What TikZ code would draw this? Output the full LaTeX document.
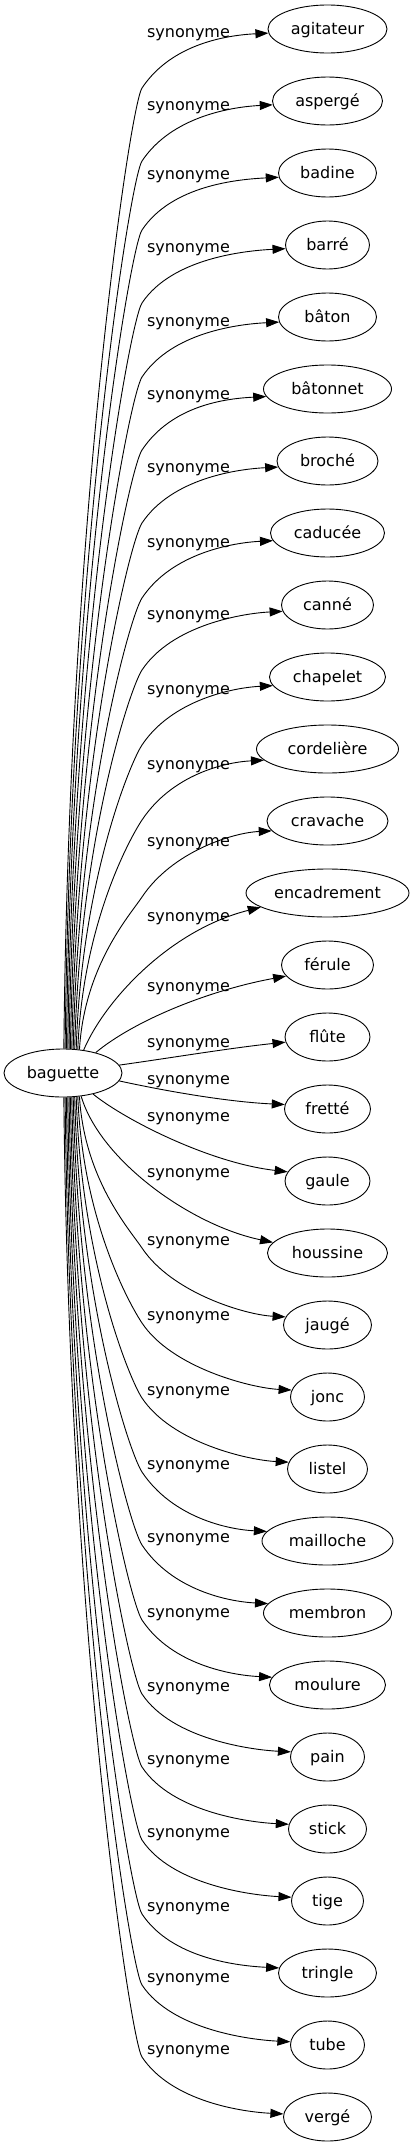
\documentclass[tikz,border=0pt]{standalone}
\usepackage{fontspec}
\setmainfont{DejaVu Sans}
\usetikzlibrary{arrows.meta,shapes.geometric,calc}
\begin{document}
\begin{tikzpicture}[x=1pt,y=-1pt,
  word/.style={draw,ellipse,line width=0.9pt,inner sep=0pt,minimum height=48pt,text height=12pt,text depth=2pt,font=\fontsize{16}{19}\selectfont},
  lab/.style={anchor=base,inner sep=0pt,font=\fontsize{16}{19}\selectfont},
  conn/.style={line width=0.9pt,-{Triangle[length=13pt,width=9pt]}}]
\useasboundingbox (0,0) rectangle (413,2147);
\node[word,minimum width=118pt] (bag) at (63,1073) {baguette};
% upper, far edges
\foreach \txt/\w/\yy/\LL [count=\i] in {agitateur/119/29/33,aspergé/110/101/106,badine/98/173/175,barré/84/245/248,bâton/98/317/322,bâtonnet/128/389/395,broché/101/461/468,caducée/114/533/543,canné/92/605/615,chapelet/116/677/690,cordelière/142/749/765,cravache/121/821/842}{
  \pgfmathtruncatemacro\th{91-3*\i}
  \pgfmathtruncatemacro\ta{184+0.6*(\i-1)}
  \node[word,minimum width=\w pt] (u\i) at (327.5,\yy) {\txt};
  \node[lab] (lu\i) at (188.5,\LL+4.5) {synonyme};
  \coordinate (S) at (bag.\th);
  \coordinate (K) at (142,\LL+55);
  \coordinate (M) at ($(S)!0.55!(K)$);
  \coordinate (T) at (u\i.\ta);
  \draw[conn] (S) .. controls ($(S|-M)+(5,0)$) and ($(K)+(-12,18)$) .. (K) .. controls ($(K)+(30,-45)$) and ($(T)+(-40,2)$) .. (T);
}
% upper, near edges
\node[word,minimum width=163pt] (u13) at (327.5,893) {encadrement};
\node[lab] (lu13) at (188.5,921.5) {synonyme};
\draw[conn] (bag.48) .. controls (105,1000) and (170,930) .. (u13.192);
\node[word,minimum width=92pt] (u14) at (327.5,965) {férule};
\node[lab] (lu14) at (188.5,991.5) {synonyme};
\draw[conn] (bag.32) .. controls (135,1020) and (210,990) .. (u14.195);
\node[word,minimum width=85pt] (u15) at (327.5,1037) {flûte};
\node[lab] (lu15) at (188.5,1047.5) {synonyme};
\draw[conn] (bag.8) .. controls (170,1058) and (230,1048) .. (u15.187);
% lower, near edges
\node[word,minimum width=86pt] (d1) at (327.5,1109) {fretté};
\node[lab] (ld1) at (188.5,1084.5) {synonyme};
\draw[conn] (bag.352) .. controls (170,1092) and (230,1102) .. (d1.174);
\node[word,minimum width=85pt] (d2) at (327.5,1181) {gaule};
\node[lab] (ld2) at (188.5,1121.5) {synonyme};
\draw[conn] (bag.325) .. controls (125,1120) and (210,1163) .. (d2.167);
\node[word,minimum width=120pt] (d3) at (327.5,1253) {houssine};
\node[lab] (ld3) at (188.5,1177.5) {synonyme};
\draw[conn] (bag.308) .. controls (100,1160) and (190,1225) .. (d3.169);
% lower, far edges
\foreach \txt/\w/\yy/\LL [count=\i from 4] in {jaugé/88/1325/1241,jonc/74/1397/1316,listel/80/1469/1391,mailloche/131/1541/1465,membron/128/1613/1538,moulure/116/1685/1613,pain/74/1757/1687,stick/78/1829/1760,tige/72/1901/1833,tringle/98/1973/1907,tube/74/2045/1978,vergé/88/2117/2050}{
  \pgfmathtruncatemacro\th{308-3*(\i-3)}
  \pgfmathtruncatemacro\ta{176-0.6*(15-\i)}
  \node[word,minimum width=\w pt] (d\i) at (327.5,\yy) {\txt};
  \node[lab] (ld\i) at (188.5,\LL+4.5) {synonyme};
  \coordinate (S) at (bag.\th);
  \coordinate (K) at (142,\LL+7);
  \coordinate (M) at ($(S)!0.55!(K)$);
  \coordinate (T) at (d\i.\ta);
  \draw[conn] (S) .. controls ($(S|-M)+(5,0)$) and ($(K)+(-12,-18)$) .. (K) .. controls ($(K)+(30,45)$) and ($(T)+(-40,-2)$) .. (T);
}
\end{tikzpicture}
\end{document}
